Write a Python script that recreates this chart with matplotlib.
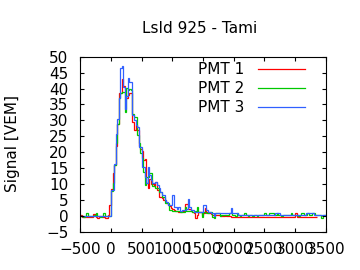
import numpy as np
import matplotlib
matplotlib.use("Agg")
import matplotlib.pyplot as plt

# FADC traces, 25 ns bins starting at -500 ns
t_start = -500
bin_ns = 25

# -500 .. -25
red_base = [0.2, -0.3, -0.3, -0.3, -0.3, -0.3, -0.3, -0.3, 0.6, 0.6,
            -0.3, -0.6, -0.3, 0.0, -0.3, -0.3, -0.8, -0.8, 0.2, 3.4]
green_base = [0.0, 0.0, -0.3, 0.0, 0.8, 0.0, 0.0, 0.0, 0.0, 0.3,
              0.8, 0.0, 0.0, -0.3, 0.0, 0.8, 0.0, 0.0, 0.0, 0.0]
blue_base = [0.0, 0.0, 0.0, -0.2, -0.2, -0.2, -0.2, -0.2, 0.0, 0.0,
             -0.2, -0.2, -0.2, -0.2, -0.2, 0.0, 0.0, 0.0, 0.0, 0.0]

# 0 .. 975
red_pulse = [8.3, 13.4, 16.0, 22.0, 29.0, 38.6, 38.6, 43.0, 40.8, 39.5,
             37.0, 38.0, 38.5, 38.5, 29.6, 27.0, 28.5, 27.0, 22.0, 21.0,
             20.5, 17.5, 17.9, 10.3, 8.8, 11.5, 10.0, 10.0, 9.5, 10.7,
             8.1, 6.0, 6.0, 5.5, 5.0, 5.0, 4.0, 3.5, 3.0, 2.4]
green_pulse = [7.8, 10.2, 16.0, 23.0, 29.0, 37.0, 38.6, 39.0, 39.0, 32.7,
               40.1, 39.5, 40.0, 39.5, 32.0, 31.0, 31.0, 25.4, 22.8, 19.7,
               18.2, 13.9, 9.7, 12.3, 12.3, 13.4, 13.4, 9.2, 9.2, 8.6,
               8.6, 7.6, 7.6, 5.8, 5.8, 3.9, 3.9, 3.9, 1.8, 1.8]
blue_pulse = [8.1, 8.1, 16.4, 25.7, 30.4, 36.9, 46.4, 47.1, 40.6, 33.5,
              37.5, 43.2, 42.2, 41.9, 31.7, 30.1, 28.6, 28.0, 21.7, 21.7,
              15.4, 15.4, 12.3, 10.3, 15.4, 12.8, 11.3, 10.3, 10.3, 10.7,
              9.6, 8.6, 7.6, 6.5, 6.5, 5.0, 4.2, 3.4, 3.4, 3.4]

# 1000 .. end
red_tail = [2.0, 1.8, 1.6, 1.6, 1.3, 1.3, 1.6, 1.6, 3.6, 3.6,
            2.0, 2.0, 1.6, 1.3, 1.0, -0.6, 0.3, 1.3, 1.3, 0.3,
            0.8, 2.4, 1.3, 1.0, 1.0, 0.6, 0.3, 0.3, 0.3, 0.3,
            0.3, 0.0, 0.0, 0.0, 0.3, 0.0, 0.0, 0.0, -0.3, -0.3,
            -0.5, -0.5, -0.3, -0.3, -0.3, -0.5, -0.5, -0.5, -0.5, -0.5,
            -0.5, -0.3, -0.5, -0.5, -0.5, -0.3, -0.5, -0.5, -0.5, -0.3,
            -0.3, -0.5, -0.5, -0.3, -0.3, -0.5, -0.5, -0.3, -0.5, -0.5,
            -0.5, -0.5, -0.3, -0.5, -0.5, -0.3, -0.5, -0.5, -0.3, -0.5,
            0.8, -0.3, -0.5, -0.5, -0.3, -0.5, -0.5, -0.3, -0.5, -0.5,
            -0.5, -0.3, -0.5, -0.5]
green_tail = [1.5, 1.5, 1.5, 1.5, 1.5, 1.3, 1.3, 1.3, 2.9, 1.5,
              1.5, 1.5, 1.5, 1.3, 1.3, 1.5, 2.7, 1.3, 1.3, -0.3,
              1.3, 1.3, 1.0, 1.0, 1.3, 1.3, -0.3, -0.7, 0.8, 0.8,
              0.8, 0.0, 0.2, 0.2, 0.2, 0.2, 0.2, 0.8, 0.8, 0.2,
              0.2, 0.0, 0.8, 0.2, 0.0, 0.2, 0.2, 0.8, 0.2, 0.0,
              0.2, 0.2, 0.0, 0.2, 0.2, 0.0, 0.2, 0.2, 0.2, 0.2,
              0.8, 0.2, 0.2, 0.8, 0.8, 0.8, 0.2, 0.2, 0.8, 0.2,
              0.2, 0.0, 0.2, 0.2, 0.2, 0.2, 0.2, 0.8, 0.2, 0.2,
              0.2, 0.2, 0.0, 0.2, 0.8, 0.8, 0.2, 0.2, 0.8, 0.2,
              0.2, 0.8, 0.8, 0.2, 0.2, 0.2, 0.2, -0.8, 0.2, 0.2]
blue_tail = [6.5, 2.9, 2.9, 2.0, 2.9, 1.6, 1.8, 1.8, 1.8, 2.0,
             5.2, 2.9, 1.8, 1.8, 1.3, 1.3, 1.3, 1.3, 1.3, 1.3,
             3.3, 3.3, 1.8, 1.3, 1.3, 0.8, 0.8, 0.0, 0.8, 0.8,
             0.8, 0.8, 0.8, 0.8, 0.8, 0.8, 0.8, 0.8, 2.4, 0.8,
             0.8, 0.8, 0.8, 0.3, 0.3, 0.1, 0.1, 0.1, 0.1, 0.1,
             0.1, 0.1, 0.1, 0.1, 0.1, 0.1, 0.1, 0.1, 0.1, 0.1,
             0.3, 0.3, 0.3, 0.3, 0.3, 0.3, 0.3, 0.8, 0.8, 0.8,
             0.1, 0.1, 0.1, 0.1, 0.1, 0.1, 0.1, 0.1, 0.3, 0.1,
             0.1, 0.1, 0.1, 0.1, 0.1, 0.1, 0.1, 0.8, 0.8, 0.8,
             0.8, 0.8, 0.1, 0.1, 0.1, 0.1, 0.1, 0.1, 0.1, 0.1]

labels = ["PMT 1", "PMT 2", "PMT 3"]
colors = ["#ff0000", "#00c800", "#3060ff"]
traces = [red_base + red_pulse + red_tail,
          green_base + green_pulse + green_tail,
          blue_base + blue_pulse + blue_tail]

xticks = np.arange(-500, 3501, 500)
yticks = np.arange(-5, 51, 5)

FS = 11
plt.rcParams["font.family"] = ["DejaVu Sans"]
fig = plt.figure(figsize=(3.6, 2.7), dpi=100)
ax = fig.add_axes([0.223, 0.142, 0.682, 0.648])

for vals, col, lab in zip(traces, colors, labels):
    vals = np.asarray(vals)
    edges = t_start + bin_ns * np.arange(len(vals) + 1)
    ax.stairs(vals, edges, color=col, lw=0.9, label=lab, baseline=None)

ax.set_xlim(-500, 3500)
ax.set_ylim(-5, 50)
ax.set_xticks(xticks)
ax.set_yticks(yticks)
ax.tick_params(direction="in", length=3, width=0.8, top=True, right=True,
               labelsize=FS)
ax.tick_params(axis="y", pad=8.5)
ax.tick_params(axis="x", pad=7.5)
for s in ax.spines.values():
    s.set_linewidth(0.8)

fig.text(0.034, 0.47, "Signal [VEM]", rotation=90, ha="center", va="center",
         fontsize=FS)
fig.text(0.555, 0.896, "LsId 925 - Tami", ha="center", va="center", fontsize=FS)

ax.legend(loc="upper right", bbox_to_anchor=(0.916, 0.968), frameon=False,
          markerfirst=False, fontsize=FS, handlelength=3.1, handletextpad=0.9,
          labelspacing=0.25, borderaxespad=0, borderpad=0)

fig.savefig("out.png", dpi=100)
